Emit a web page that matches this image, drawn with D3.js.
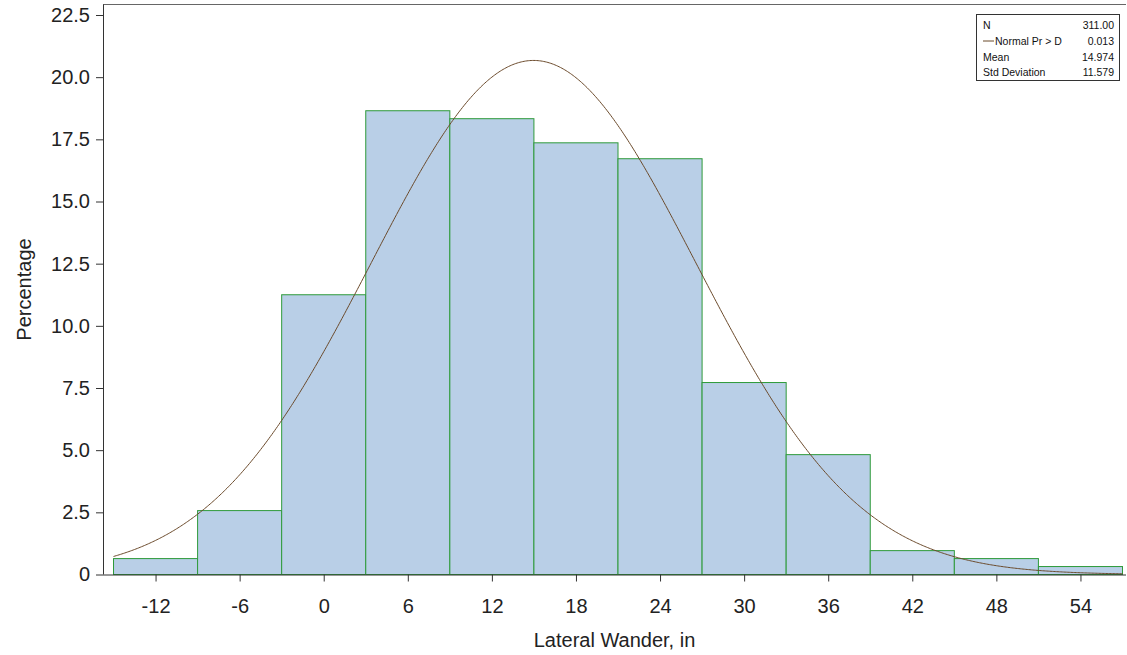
<!DOCTYPE html>
<html>
<head>
<meta charset="utf-8">
<script src="https://cdn.jsdelivr.net/npm/d3@7"></script>
<style>
  html, body { margin: 0; padding: 0; background: #fff; }
  svg { display: block; }
  text { font-family: "Liberation Sans", Arial, sans-serif; }
</style>
</head>
<body>
<svg id="chart" width="1127" height="655"></svg>
<script>
// ---- data ----
const binCenters = [-12, -6, 0, 6, 12, 18, 24, 30, 36, 42, 48, 54];
const binWidth = 6;
const percentages = [0.64, 2.57, 11.25, 18.65, 18.33, 17.36, 16.72, 7.72, 4.82, 0.96, 0.64, 0.32];
const xTicks = [-12, -6, 0, 6, 12, 18, 24, 30, 36, 42, 48, 54];
const yTicks = [0, 2.5, 5, 7.5, 10, 12.5, 15, 17.5, 20, 22.5];
const statLabels = ["N", "Normal Pr > D", "Mean", "Std Deviation"];
const statValues = ["311.00", "0.013", "14.974", "11.579"];
const fitMean = 14.974;
const fitSd = 11.579;
const xTitle = "Lateral Wander, in";
const yTitle = "Percentage";

// ---- layout ----
const svg = d3.select("#chart");
const plotL = 103, plotR = 1126, plotB = 574.5, plotT = 4.5;
const fontMain = 20;

const x = d3.scaleLinear().domain([-15.75, 57.25]).range([plotL, plotR]);
const y = d3.scaleLinear().domain([0, 22.5]).range([plotB, 15]);

// frame top line
svg.append("line")
  .attr("x1", plotL).attr("x2", plotR)
  .attr("y1", plotT).attr("y2", plotT)
  .attr("stroke", "#666").attr("stroke-width", 1);

// bars
svg.append("g").selectAll("rect")
  .data(binCenters)
  .join("rect")
  .attr("x", (d) => x(d - binWidth / 2))
  .attr("width", (d) => x(d + binWidth / 2) - x(d - binWidth / 2))
  .attr("y", (d, i) => y(percentages[i]))
  .attr("height", (d, i) => y(0) - y(percentages[i]))
  .attr("fill", "#B9CFE7")
  .attr("stroke", "#2E9A3A")
  .attr("stroke-width", 1);

// fitted normal curve (percent scale = 100 * binWidth * pdf)
const curvePts = d3.range(-15, 57.0001, 0.1).map((v) => {
  const z = (v - fitMean) / fitSd;
  return [v, 100 * binWidth * Math.exp(-0.5 * z * z) / (fitSd * Math.sqrt(2 * Math.PI))];
});
svg.append("path")
  .datum(curvePts)
  .attr("fill", "none")
  .attr("stroke", "#6B4A2B")
  .attr("stroke-width", 1)
  .attr("d", d3.line().x((d) => x(d[0])).y((d) => y(d[1])));

// axes
const xAxis = d3.axisBottom(x).tickValues(xTicks).tickSize(7).tickSizeOuter(0)
  .tickFormat(d3.format("d"));
const gx = svg.append("g").attr("transform", `translate(0,${plotB})`).call(xAxis);
gx.select(".domain").attr("stroke", "#333").attr("d", `M${plotL},0.5H${plotR}`);
gx.selectAll(".tick line").attr("stroke", "#333");
gx.selectAll(".tick text")
  .attr("font-size", fontMain).attr("fill", "#222").attr("y", 38).attr("dy", null)
  .style("font-family", "'Liberation Sans', Arial, sans-serif")
  .text((d) => d < 0 ? "-" + Math.abs(d) : d);

const yAxis = d3.axisLeft(y).tickValues(yTicks).tickSize(7).tickSizeOuter(0)
  .tickFormat((d) => d === 0 ? "0" : d3.format(".1f")(d));
const gy = svg.append("g").attr("transform", `translate(${plotL},0)`).call(yAxis);
gy.select(".domain").attr("stroke", "#333").attr("d", `M0.5,${plotT}V${plotB}`);
gy.selectAll(".tick line").attr("stroke", "#333");
gy.selectAll(".tick text")
  .attr("font-size", fontMain).attr("fill", "#222").attr("x", -13)
  .style("font-family", "'Liberation Sans', Arial, sans-serif");

// titles
svg.append("text")
  .attr("x", (plotL + plotR) / 2).attr("y", 647)
  .attr("text-anchor", "middle").attr("font-size", fontMain).attr("fill", "#222")
  .text(xTitle);
svg.append("text")
  .attr("transform", `translate(31,${(plotT + plotB) / 2}) rotate(-90)`)
  .attr("text-anchor", "middle").attr("font-size", fontMain).attr("fill", "#222")
  .text(yTitle);

// stats inset box
const bx = 976, by = 14, bw = 143, bh = 66;
const inset = svg.append("g");
inset.append("rect")
  .attr("x", bx + 0.5).attr("y", by + 0.5).attr("width", bw).attr("height", bh)
  .attr("fill", "#fff").attr("stroke", "#333").attr("stroke-width", 1);
const rowY = [29, 45, 61, 76];
statLabels.forEach((lab, i) => {
  const tx = i === 1 ? bx + 19 : bx + 7;
  inset.append("text")
    .attr("x", tx).attr("y", rowY[i]).attr("font-size", 10.5).attr("fill", "#111")
    .text(lab);
  inset.append("text")
    .attr("x", bx + bw - 5).attr("y", rowY[i]).attr("font-size", 10.5).attr("fill", "#111")
    .attr("text-anchor", "end")
    .text(statValues[i]);
});
inset.append("line")
  .attr("x1", bx + 7).attr("x2", bx + 18)
  .attr("y1", rowY[1] - 4).attr("y2", rowY[1] - 4)
  .attr("stroke", "#6B4A2B").attr("stroke-width", 1);
</script>
</body>
</html>
